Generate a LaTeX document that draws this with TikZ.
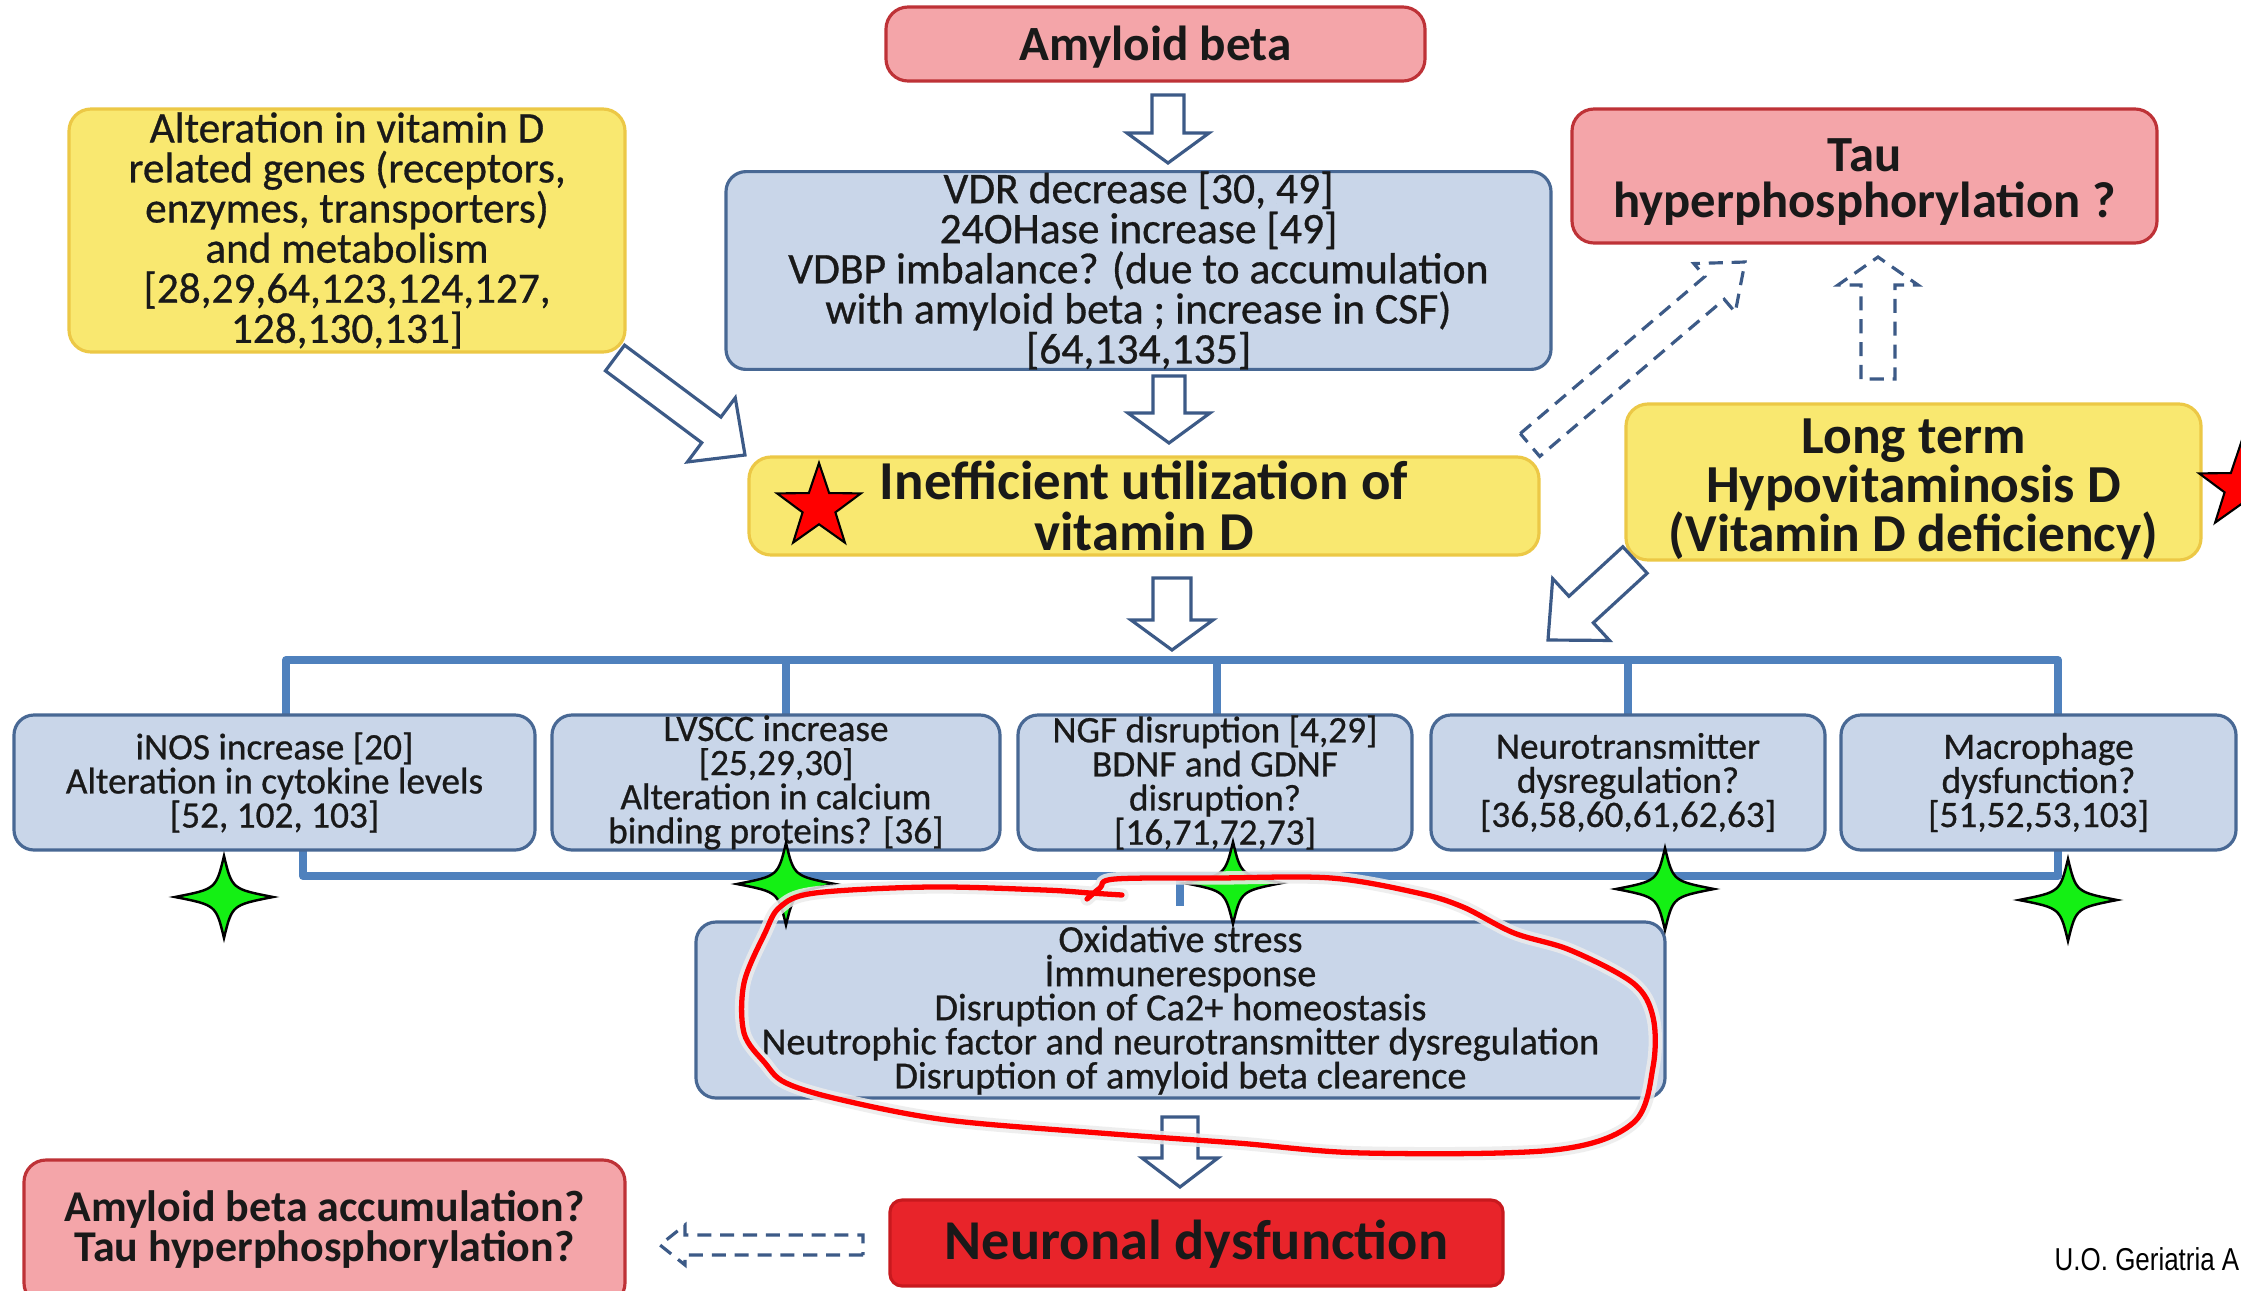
\documentclass[tikz,border=0pt]{standalone}
\usepackage{fontspec}
\setmainfont{Carlito}
\newfontfamily\regfont[FakeBold=0.7]{Carlito}
\newfontfamily\narrowfont[FakeStretch=0.82]{Liberation Sans}
\usetikzlibrary{calc,shapes.geometric}

\definecolor{pinkfill}{RGB}{244,165,169}
\definecolor{pinkdraw}{RGB}{190,50,55}
\definecolor{yelfill}{RGB}{249,232,112}
\definecolor{yeldraw}{RGB}{236,200,70}
\definecolor{bluefill}{RGB}{201,214,233}
\definecolor{bluedraw}{RGB}{72,104,148}
\definecolor{busblue}{RGB}{79,129,189}
\definecolor{arrowblue}{RGB}{60,90,135}
\definecolor{neurred}{RGB}{232,36,42}
\definecolor{neurdraw}{RGB}{200,25,30}
\definecolor{txt}{RGB}{25,25,25}
\definecolor{stargreen}{RGB}{20,240,20}

\tikzset{
  sz/.style 2 args={minimum width=#1*0.01cm, minimum height=#2*0.01cm},
  box/.style={rectangle, rounded corners=0.22cm, line width=0.9pt, inner sep=0pt, align=center, text=txt},
  pinkbox/.style={box, fill=pinkfill, draw=pinkdraw},
  yelbox/.style={box, fill=yelfill, draw=yeldraw},
  bluebox/.style={box, fill=bluefill, draw=bluedraw, rounded corners=0.2cm},
  neurbox/.style={box, fill=neurred, draw=neurdraw, rounded corners=0.12cm},
  txtnode/.style={inner sep=0pt, align=center, text=txt},
  bus/.style={draw=busblue, line width=2.3pt, line join=round},
  barrowst/.style={draw=arrowblue, fill=white, line width=0.9pt, line join=miter},
  dbarrowst/.style={barrowst, dash pattern=on 4pt off 2.5pt},
  redloop/.style={draw=red, line width=1.5pt, line cap=round, line join=round},
  redhalo/.style={draw=white!85!gray, line width=3.8pt, line cap=round, line join=round, opacity=0.85},
  rstar/.style={star, star points=5, star point ratio=2.55, fill=red, draw=black, line width=0.6pt, minimum size=0.88cm, inner sep=0pt},
  gstar/.pic={\draw[fill=stargreen, draw=black, line width=0.7pt]
     (0,-41) .. controls (8,-8) .. (49,0) .. controls (8,8) .. (0,41)
     .. controls (-8,8) .. (-49,0) .. controls (-8,-8) .. (0,-41) -- cycle;}
}

% block arrow: #1 style, #2 start, #3 end, #4 half shaft, #5 half head, #6 head length (px)
\newcommand\barrow[6]{%
  \coordinate (bah) at ($(#3)!#6*0.01cm!(#2)$);
  \draw[#1] ($(#2)!#4*0.01cm!90:(#3)$) -- ($(bah)!#4*0.01cm!-90:(#2)$) -- ($(bah)!#5*0.01cm!-90:(#2)$) -- (#3) -- ($(bah)!#5*0.01cm!90:(#2)$) -- ($(bah)!#4*0.01cm!90:(#2)$) -- ($(#2)!#4*0.01cm!-90:(#3)$) -- cycle;
}

\begin{document}
\begin{tikzpicture}[x=0.01cm, y=-0.01cm]
\useasboundingbox (0,0) rectangle (2241,1290);
\clip (0,0) rectangle (2241,1290);
\fill[white] (0,0) rectangle (2241,1290);

% ---- bus coordinates
\coordinate (b1) at (286,660);
\coordinate (b2) at (786,660);
\coordinate (b3) at (1217,660);
\coordinate (b4) at (1628,660);
\coordinate (b5) at (2058,660);
\coordinate (c1) at (303,876);
\coordinate (c5) at (2058,876);
\coordinate (cm) at (1180,876);
\coordinate (cmend) at (1180,906);

% ---- top boxes
\node[pinkbox, sz={539}{74}] (amy) at (1155.5,44) {};
\node[txtnode, font=\fontsize{14}{14}\selectfont\bfseries] (amyt) at ($(amy)+(0,3)$) {Amyloid beta};

\node[yelbox, sz={556}{243}, font=\regfont\fontsize{12.3}{11.4}\selectfont] (alt) at (347,230.5)
  {Alteration in vitamin D\\related genes (receptors,\\enzymes, transporters)\\and metabolism\\{}[28,29,64,123,124,127,\\128,130,131]};

\node[bluebox, sz={825}{187}, font=\regfont\fontsize{12.4}{11.4}\selectfont] (vdr) at (1138.5,270.5)
  {VDR decrease [30, 49]\\24OHase increase [49]\\VDBP imbalance? (due to accumulation\\with amyloid beta ; increase in CSF)\\{}[64,134,135]};

\node[pinkbox, sz={585}{134}] (tau) at (1864.5,176) {};
\node[txtnode, font=\fontsize{14.4}{13}\selectfont\bfseries] (taut) at ($(tau)+(0,6)$) {Tau\\hyperphosphorylation ?};

\node[yelbox, sz={790}{98}] (ineff) at (1144,506) {};
\node[txtnode, font=\fontsize{15.6}{14.5}\selectfont\bfseries] (inefft) at (ineff) {Inefficient utilization of\\vitamin D};

\node[yelbox, sz={575}{156}] (longt) at (1913.5,482) {};
\node[txtnode, font=\fontsize{15.2}{13.9}\selectfont\bfseries] (longtt) at ($(longt)+(0,7)$) {Long term\\Hypovitaminosis D\\(Vitamin D deficiency)};

% ---- bus lines
\draw[bus] (b1 |- 0,715) -- (b1) -- (b5) -- (b5 |- 0,715);
\draw[bus] (b2) -- (b2 |- 0,715);
\draw[bus] (b3) -- (b3 |- 0,715);
\draw[bus] (b4) -- (b4 |- 0,715);
\draw[bus] (c1 |- 0,850) -- (c1) -- (c5) -- (c5 |- 0,850);
\draw[bus] (cm) -- (cmend);

% ---- middle boxes
\begin{scope}[every node/.append style={font=\regfont\fontsize{10.6}{9.7}\selectfont}]
\node[bluebox, sz={521}{135}] (mA) at (274.5,782.5)
  {iNOS increase [20]\\Alteration in cytokine levels\\{}[52, 102, 103]};
\node[bluebox, sz={448}{135}] (mB) at (776,782.5)
  {LVSCC increase\\{}[25,29,30]\\Alteration in calcium\\binding proteins? [36]};
\node[bluebox, sz={394}{135}] (mC) at (1215,782.5)
  {NGF disruption [4,29]\\BDNF and GDNF\\disruption?\\{}[16,71,72,73]};
\node[bluebox, sz={394}{135}] (mD) at (1628,782.5)
  {Neurotransmitter\\dysregulation?\\{}[36,58,60,61,62,63]};
\node[bluebox, sz={395}{135}] (mE) at (2038.5,782.5)
  {Macrophage\\dysfunction?\\{}[51,52,53,103]};
\end{scope}

% ---- oxidative box
\node[bluebox, sz={969}{176}, font=\regfont\fontsize{10.9}{9.7}\selectfont] (oxi) at (1180.5,1010)
  {Oxidative stress\\İmmuneresponse\\Disruption of Ca2+ homeostasis\\Neutrophic factor and neurotransmitter dysregulation\\Disruption of amyloid beta clearence};

% ---- bottom boxes
\node[pinkbox, sz={601}{145}] (acc) at (324.5,1232.5) {};
\node[txtnode, font=\fontsize{12.5}{11.4}\selectfont\bfseries] (acct) at ($(acc)+(0,-3)$) {Amyloid beta accumulation?\\Tau hyperphosphorylation?};
\node[neurbox, sz={613}{86}] (neur) at (1196.5,1243) {};
\node[txtnode, font=\fontsize{16}{16}\selectfont\bfseries] (neurt) at ($(neur)+(0,1)$) {Neuronal dysfunction};

% ---- block arrows
\coordinate (a1s) at (1168,95);   \coordinate (a1e) at (1168,163);
\coordinate (a2s) at (1169,376);  \coordinate (a2e) at (1169,443);
\coordinate (a3s) at (615,358);   \coordinate (a3e) at (745,455);
\coordinate (a4s) at (1172,578);  \coordinate (a4e) at (1172,650);
\coordinate (a5s) at (1635,560);  \coordinate (a5e) at (1548,640);
\coordinate (a6s) at (1530,445);  \coordinate (a6e) at (1745,262);
\coordinate (a7s) at (1878,379);  \coordinate (a7e) at (1878,257);
\coordinate (a8s) at (1180,1117); \coordinate (a8e) at (1180,1187);
\coordinate (a9s) at (863,1245);  \coordinate (a9e) at (660,1245);

\barrow{barrowst}{a1s}{a1e}{16}{41}{30}
\barrow{barrowst}{a2s}{a2e}{16}{41}{30}
\barrow{barrowst}{a3s}{a3e}{16}{40}{42}
\barrow{barrowst}{a4s}{a4e}{19}{41}{30}
\barrow{barrowst}{a5s}{a5e}{18}{42}{45}
\barrow{dbarrowst}{a6s}{a6e}{15}{32}{40}
\barrow{dbarrowst}{a7s}{a7e}{17}{40}{28}
\barrow{barrowst}{a8s}{a8e}{18}{38}{29}
\barrow{dbarrowst}{a9s}{a9e}{10}{20}{25}

% ---- stars
\node[rstar] (rs1) at (819,507) {};
\node[rstar] (rs2) at (2241,487) {};
\pic at (224,897) {gstar};
\pic at (786,884) {gstar};
\pic at (1233,883) {gstar};
\pic at (1665,889) {gstar};
\pic at (2068,900) {gstar};

% ---- red hand-drawn loop
\def\looppts{(1122,895) (1090,893) (1044,890) (930,887) (815,893) (780,907) (765,933) (744,983) (744,1033) (765,1063) (786,1083) (842,1100) (947,1120) (1100,1133) (1237,1143) (1364,1153) (1554,1150) (1633,1123) (1653,1067) (1653,1017) (1633,983) (1570,950) (1514,933) (1463,907) (1418,893) (1331,878) (1217,878) (1115,879) (1100,888) (1087,899)}
\draw[redhalo] plot[smooth, tension=0.55] coordinates {\looppts};
\draw[redloop] plot[smooth, tension=0.55] coordinates {\looppts};

% ---- credit
\node[anchor=west, inner sep=0pt, font=\narrowfont\fontsize{9}{9}\selectfont] (credit) at (2054,1259) {U.O. Geriatria A};
\end{tikzpicture}
\end{document}
